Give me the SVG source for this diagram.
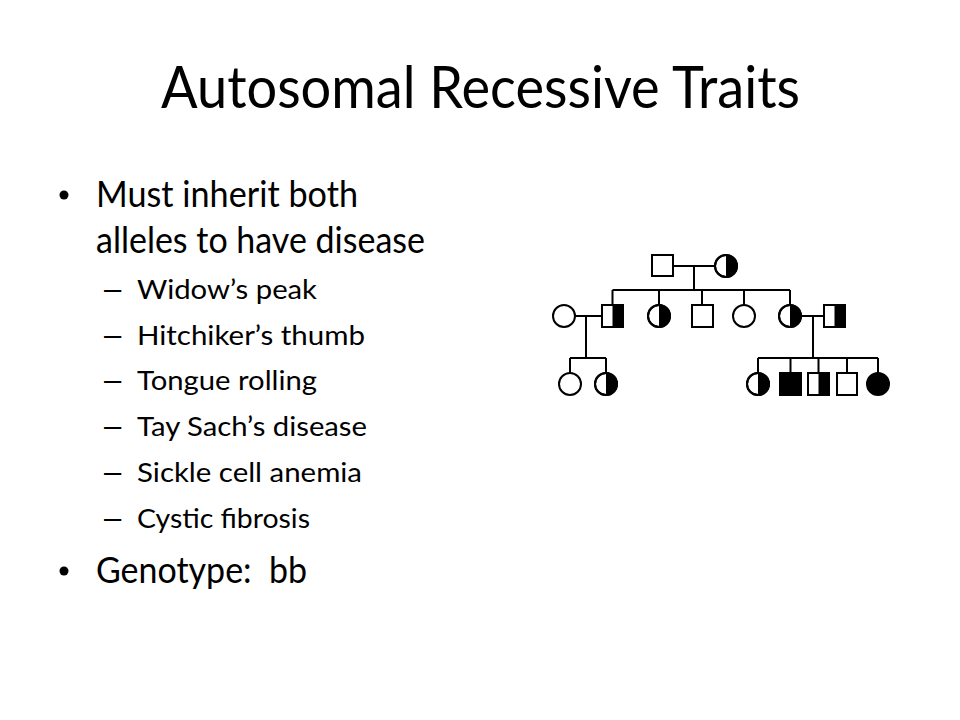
<svg xmlns="http://www.w3.org/2000/svg" width="960" height="720" viewBox="0 0 960 720">
<style>
.t{font-family:Lato,"Open Sans","Liberation Sans",sans-serif;fill:#000}
.title{font-size:58px}
.b1{font-size:37px}
.b2{font-size:26.5px}
.d{font-family:"Liberation Sans",Arial,sans-serif;font-size:31px;fill:#000}
.sym{fill:#fff;stroke:#000;stroke-width:2}
.fill{fill:#000;stroke:none}
.ln{stroke:#000;stroke-width:2;fill:none}
</style>
<rect width="960" height="720" fill="#fff"/>
<g id="title">
<text class="t title" x="161" y="108" textLength="639" lengthAdjust="spacingAndGlyphs">Autosomal Recessive Traits</text>
</g>
<g id="bullets">
<circle cx="64" cy="195" r="4.5" fill="#000"/>
<text class="t b1" x="96" y="207" textLength="262" lengthAdjust="spacingAndGlyphs">Must inherit both</text>
<text class="t b1" x="96" y="253" textLength="329" lengthAdjust="spacingAndGlyphs">alleles to have disease</text>
<text class="d" x="104" y="299">–</text>
<text class="t b2" x="137" y="299" textLength="180" lengthAdjust="spacingAndGlyphs">Widow’s peak</text>
<text class="d" x="104" y="345">–</text>
<text class="t b2" x="137" y="345" textLength="228" lengthAdjust="spacingAndGlyphs">Hitchiker’s thumb</text>
<text class="d" x="104" y="390">–</text>
<text class="t b2" x="137" y="390" textLength="180" lengthAdjust="spacingAndGlyphs">Tongue rolling</text>
<text class="d" x="104" y="436">–</text>
<text class="t b2" x="137" y="436" textLength="230" lengthAdjust="spacingAndGlyphs">Tay Sach’s disease</text>
<text class="d" x="104" y="482">–</text>
<text class="t b2" x="137" y="482" textLength="225" lengthAdjust="spacingAndGlyphs">Sickle cell anemia</text>
<text class="d" x="104" y="528">–</text>
<text class="t b2" x="137" y="528" textLength="173" lengthAdjust="spacingAndGlyphs">Cystic fibrosis</text>
<circle cx="64" cy="571" r="4.5" fill="#000"/>
<text class="t b1" x="96" y="583" textLength="211" lengthAdjust="spacingAndGlyphs" xml:space="preserve">Genotype:  bb</text>
</g>
<g id="connectors">
<path class="ln" d="M673 266H715 M694 266V290 M612.5 290H790 M612.5 290V305 M659 290V305 M702 290V305 M744 290V305 M790 290V305"/>
<path class="ln" d="M575 316H602 M586 316V358 M570 358H606 M570 358V373 M606 358V373"/>
<path class="ln" d="M801 316H824 M813 316V358 M758 358H878 M758 358V373 M790.5 358V373 M818.5 358V373 M847 358V373 M878 358V373"/>
</g>
<g id="gen1-father"><rect class="sym" x="652" y="255" width="21" height="21"/></g>
<g id="gen1-mother"><circle class="sym" cx="726" cy="266" r="11"/><path class="fill" d="M726 255A11 11 0 0 1 726 277Z"/><circle cx="726" cy="266" r="11" fill="none" stroke="#000" stroke-width="2"/></g>
<g id="gen2-wife"><circle class="sym" cx="564" cy="316" r="11"/></g>
<g id="gen2-son1"><rect class="sym" x="602" y="305" width="21" height="22"/><rect class="fill" x="612.5" y="305" width="10.5" height="22"/><rect x="602" y="305" width="21" height="22" fill="none" stroke="#000" stroke-width="2"/></g>
<g id="gen2-daughter1"><circle class="sym" cx="659" cy="316" r="11"/><path class="fill" d="M659 305A11 11 0 0 1 659 327Z"/><circle cx="659" cy="316" r="11" fill="none" stroke="#000" stroke-width="2"/></g>
<g id="gen2-son2"><rect class="sym" x="692" y="305" width="21" height="22"/></g>
<g id="gen2-daughter2"><circle class="sym" cx="744" cy="316" r="11"/></g>
<g id="gen2-daughter3"><circle class="sym" cx="790" cy="316" r="11"/><path class="fill" d="M790 305A11 11 0 0 1 790 327Z"/><circle cx="790" cy="316" r="11" fill="none" stroke="#000" stroke-width="2"/></g>
<g id="gen2-husband"><rect class="sym" x="824" y="305" width="21" height="22"/><rect class="fill" x="834.5" y="305" width="10.5" height="22"/><rect x="824" y="305" width="21" height="22" fill="none" stroke="#000" stroke-width="2"/></g>
<g id="gen3-l1"><circle class="sym" cx="570" cy="384" r="11"/></g>
<g id="gen3-l2"><circle class="sym" cx="606" cy="384" r="11"/><path class="fill" d="M606 373A11 11 0 0 1 606 395Z"/><circle cx="606" cy="384" r="11" fill="none" stroke="#000" stroke-width="2"/></g>
<g id="gen3-r1"><circle class="sym" cx="758" cy="384" r="11"/><path class="fill" d="M758 373A11 11 0 0 1 758 395Z"/><circle cx="758" cy="384" r="11" fill="none" stroke="#000" stroke-width="2"/></g>
<g id="gen3-r2"><rect x="780" y="373" width="21" height="22" fill="#000" stroke="#000" stroke-width="2"/></g>
<g id="gen3-r3"><rect class="sym" x="808" y="373" width="21" height="22"/><rect class="fill" x="818.5" y="373" width="10.5" height="22"/><rect x="808" y="373" width="21" height="22" fill="none" stroke="#000" stroke-width="2"/></g>
<g id="gen3-r4"><rect class="sym" x="837" y="373" width="20" height="22"/></g>
<g id="gen3-r5"><circle cx="878" cy="384" r="11" fill="#000" stroke="#000" stroke-width="2"/></g>
</svg>
